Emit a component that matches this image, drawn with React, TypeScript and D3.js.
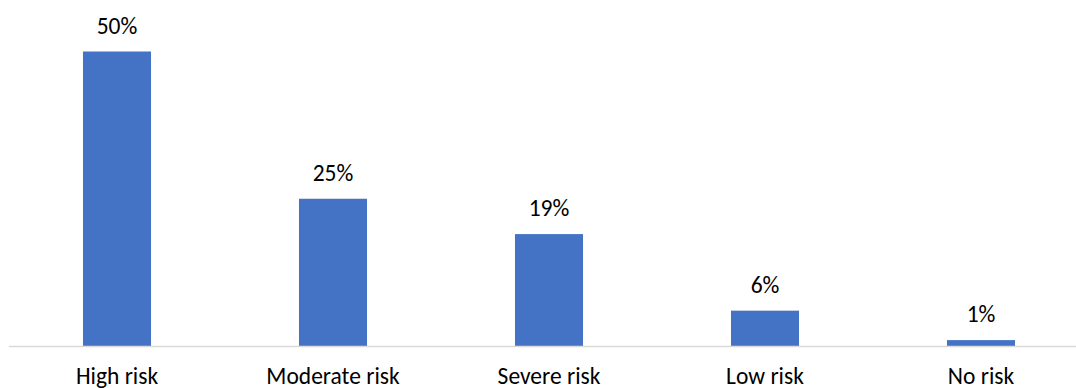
import React from "react";
import * as d3 from "d3";

// Share of respondents by risk level (percent)
const categories: string[] = ["High risk", "Moderate risk", "Severe risk", "Low risk", "No risk"];
const shares: number[] = [50, 25, 19, 6, 1];

const WIDTH = 1076;
const HEIGHT = 388;
const BASELINE = 346;
const FONT = "Carlito, Calibri, Lato, 'Open Sans', sans-serif";

export default function App() {
  const x = d3
    .scaleBand<string>()
    .domain(categories)
    .range([9, 1089])
    .paddingInner(0.685)
    .paddingOuter(0.3425);

  const y = d3.scaleLinear().domain([0, 50]).range([BASELINE, 51.5]);

  const rows = categories.map((c, i) => ({ category: c, value: shares[i] }));

  return (
    <svg
      width={WIDTH}
      height={HEIGHT}
      style={{ position: "absolute", left: 0, top: 0, background: "#fff" }}
      fontFamily={FONT}
    >
      {rows.map((d) => {
        const bx = x(d.category) as number;
        const top = y(d.value);
        return (
          <g key={d.category}>
            <rect x={bx} y={top} width={x.bandwidth()} height={BASELINE - top} fill="#4472C4" />
            <text
              x={bx + x.bandwidth() / 2}
              y={top - 17.7}
              textAnchor="middle"
              fontSize={23.5}
              fill="#000"
            >
              {d.value}%
            </text>
            <text
              x={bx + x.bandwidth() / 2}
              y={383.5}
              textAnchor="middle"
              fontSize={23.5}
              fill="#000"
            >
              {d.category}
            </text>
          </g>
        );
      })}
      <line x1={9} x2={WIDTH} y1={BASELINE + 0.5} y2={BASELINE + 0.5} stroke="#d9d9d9" strokeWidth={1.5} />
    </svg>
  );
}
